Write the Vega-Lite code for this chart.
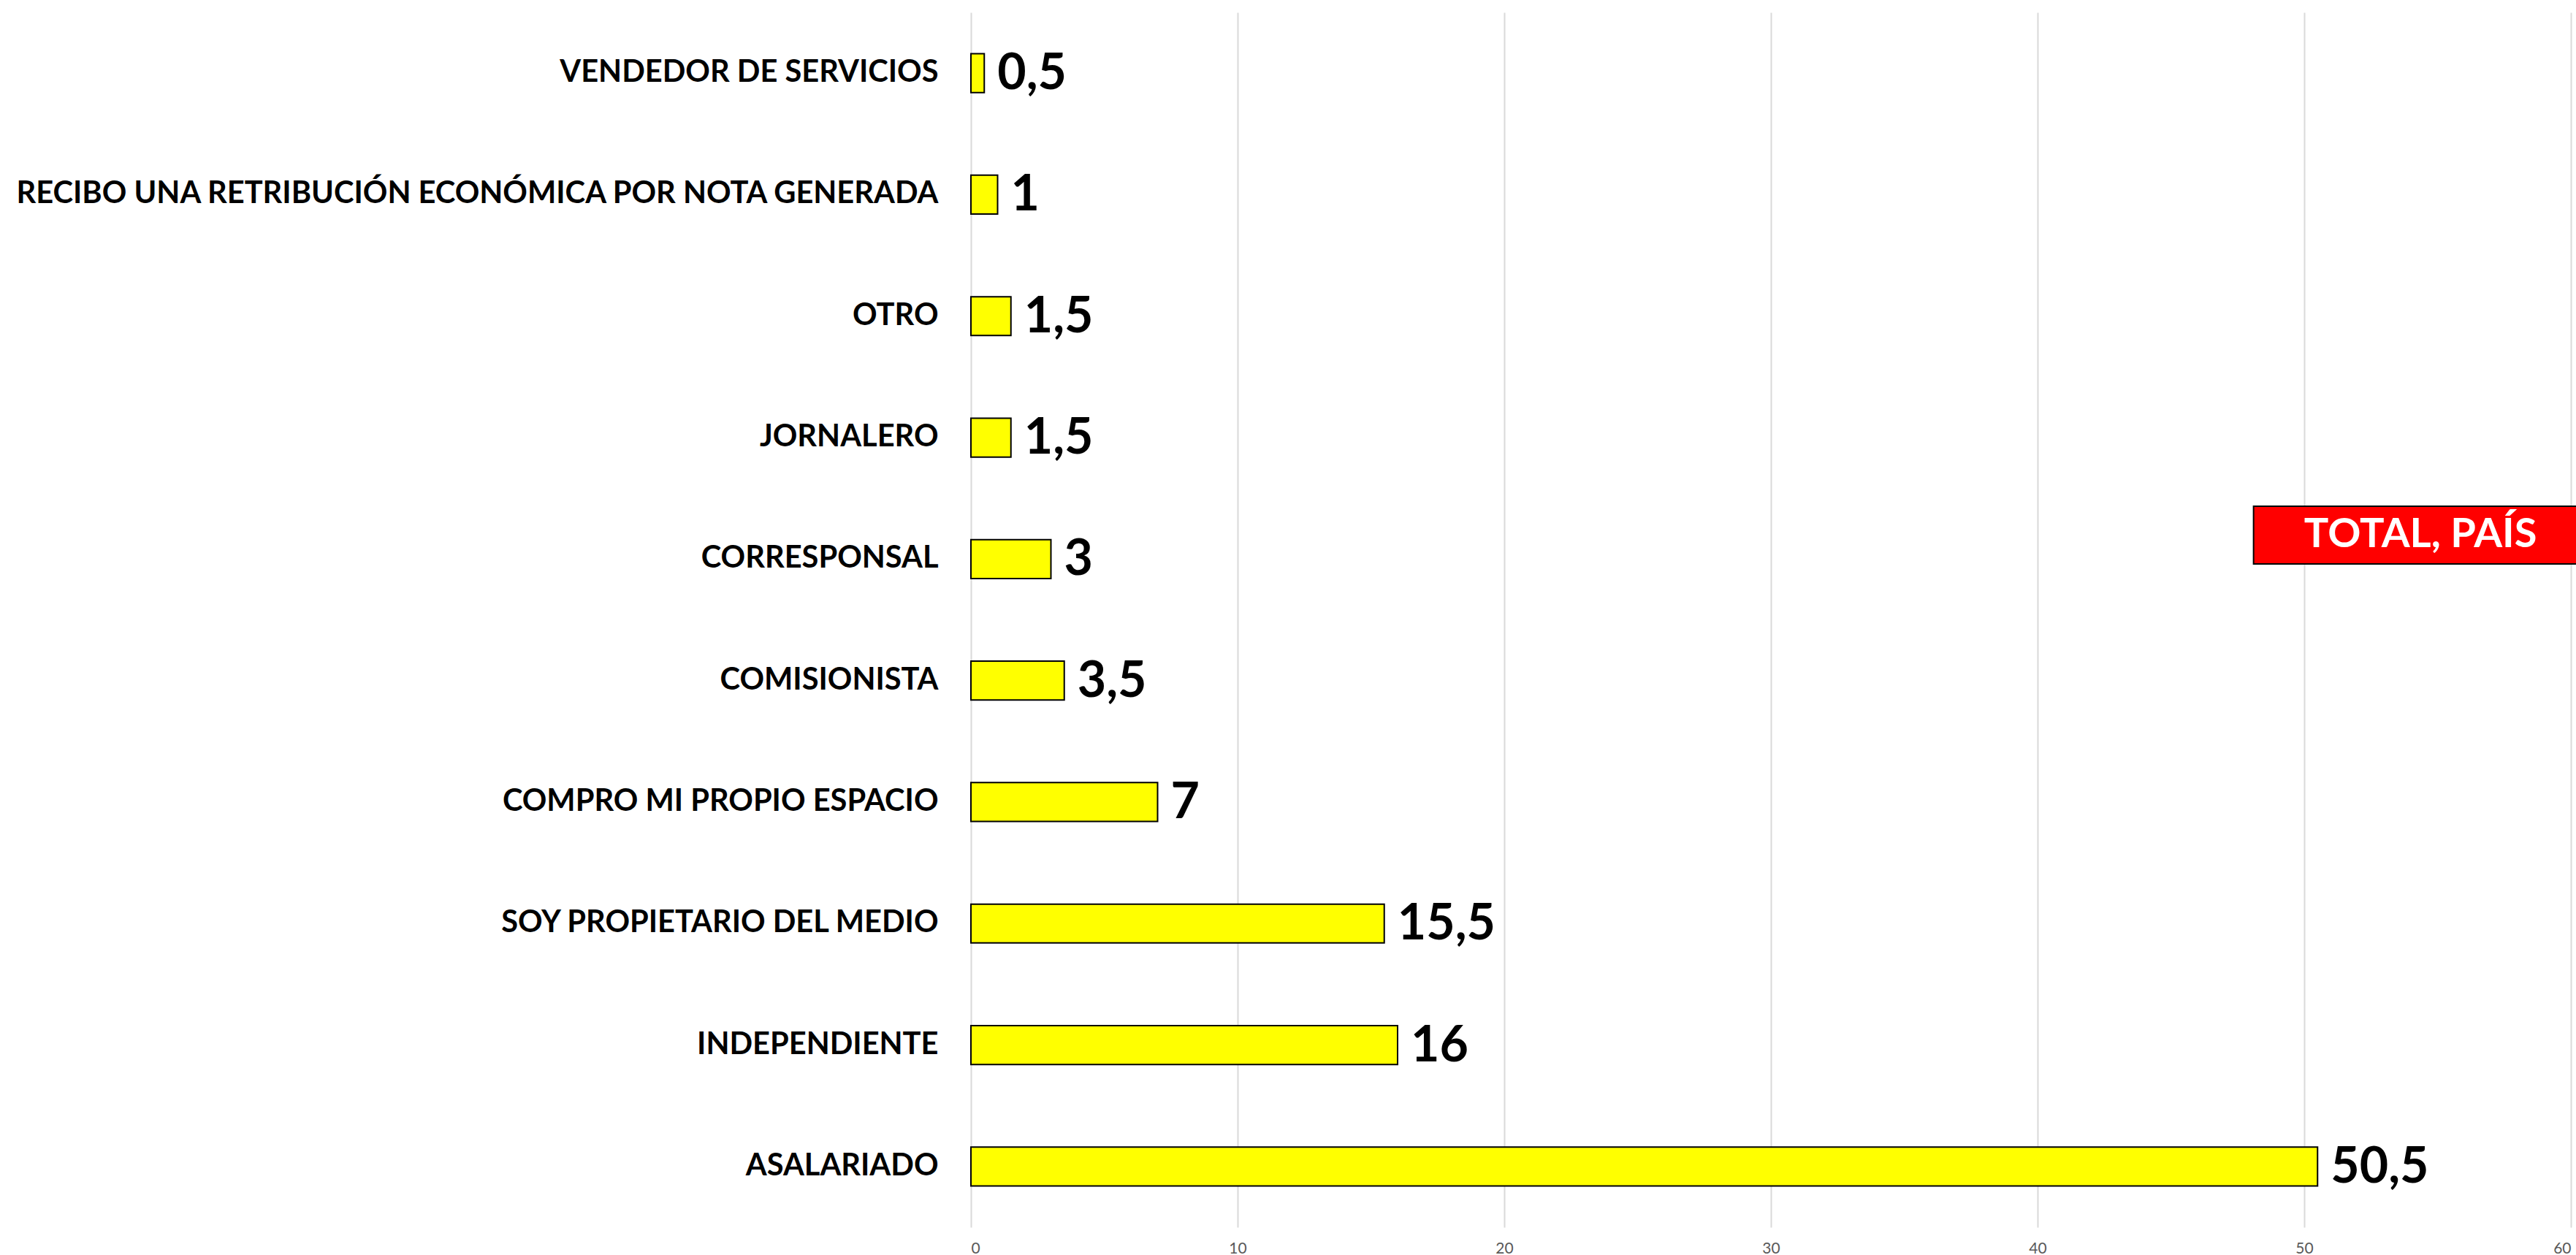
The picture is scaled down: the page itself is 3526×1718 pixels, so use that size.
{
  "$schema": "https://vega.github.io/schema/vega-lite/v6.json",
  "autosize": {"type": "none"},
  "width": 2190,
  "height": 1663,
  "padding": {"left": 1329, "top": 17, "right": 7, "bottom": 38},
  "background": "white",
  "config": {
    "view": {"stroke": null},
    "font": "Lato",
    "locale": {"number": {"decimal": ",", "thousands": ".", "grouping": [3], "currency": ["", " €"]}}
  },
  "layer": [
    {
      "data": {
        "values": [
          {"categoria": "VENDEDOR DE SERVICIOS", "porcentaje": 0.5},
          {"categoria": "RECIBO UNA RETRIBUCIÓN ECONÓMICA POR NOTA GENERADA", "porcentaje": 1},
          {"categoria": "OTRO", "porcentaje": 1.5},
          {"categoria": "JORNALERO\u2002", "porcentaje": 1.5},
          {"categoria": "CORRESPONSAL", "porcentaje": 3},
          {"categoria": "COMISIONISTA", "porcentaje": 3.5},
          {"categoria": "COMPRO MI PROPIO ESPACIO", "porcentaje": 7},
          {"categoria": "SOY PROPIETARIO DEL MEDIO", "porcentaje": 15.5},
          {"categoria": "INDEPENDIENTE", "porcentaje": 16},
          {"categoria": "ASALARIADO", "porcentaje": 50.5}
        ]
      },
      "encoding": {
        "y": {
          "field": "categoria",
          "type": "nominal",
          "sort": null,
          "scale": {"paddingInner": 0.68, "paddingOuter": 0.34},
          "axis": {
            "title": null,
            "domain": false,
            "ticks": false,
            "labelFont": "Lato",
            "labelFontWeight": "bold",
            "labelFontSize": 41.6,
            "labelColor": "black",
            "labelPadding": 45,
            "labelLimit": 0
          }
        },
        "x": {
          "field": "porcentaje",
          "type": "quantitative",
          "scale": {"domain": [0, 60]},
          "axis": {
            "title": null,
            "values": [0, 10, 20, 30, 40, 50, 60],
            "grid": true,
            "gridColor": "#d9d9d9",
            "gridWidth": 2,
            "domain": false,
            "ticks": false,
            "labelFont": "Lato",
            "labelFontSize": 21,
            "labelColor": "#595959",
            "labelPadding": 18,
            "format": "d"
          }
        }
      },
      "layer": [
        {"mark": {"type": "bar", "fill": "#ffff00", "stroke": "black", "strokeWidth": 2}},
        {
          "mark": {"type": "text", "align": "left", "baseline": "middle", "dx": 18, "dy": 2, "fontSize": 68, "fontWeight": "bold", "font": "Lato", "color": "black"},
          "encoding": {"text": {"field": "porcentaje", "type": "quantitative", "format": ".1~f"}}
        }
      ]
    },
    {
      "data": {"values": [{"rotulo": "TOTAL, PAÍS"}]},
      "layer": [
        {
          "mark": {"type": "rect", "fill": "#ff0000", "stroke": "black", "strokeWidth": 2},
          "encoding": {
            "x": {"datum": 48.1, "type": "quantitative", "scale": {"domain": [0, 60]}},
            "x2": {"datum": 61},
            "y": {"datum": 5.46, "type": "quantitative", "scale": {"domain": [0, 10]}, "axis": null},
            "y2": {"datum": 5.935}
          }
        },
        {
          "mark": {"type": "text", "align": "center", "baseline": "middle", "fontSize": 56, "fontWeight": "bold", "font": "Lato", "color": "white"},
          "encoding": {
            "x": {"datum": 54.36, "type": "quantitative", "scale": {"domain": [0, 60]}},
            "y": {"datum": 5.7, "type": "quantitative", "scale": {"domain": [0, 10]}, "axis": null},
            "text": {"field": "rotulo", "type": "nominal"}
          }
        }
      ]
    }
  ],
  "resolve": {"scale": {"y": "independent"}}
}
